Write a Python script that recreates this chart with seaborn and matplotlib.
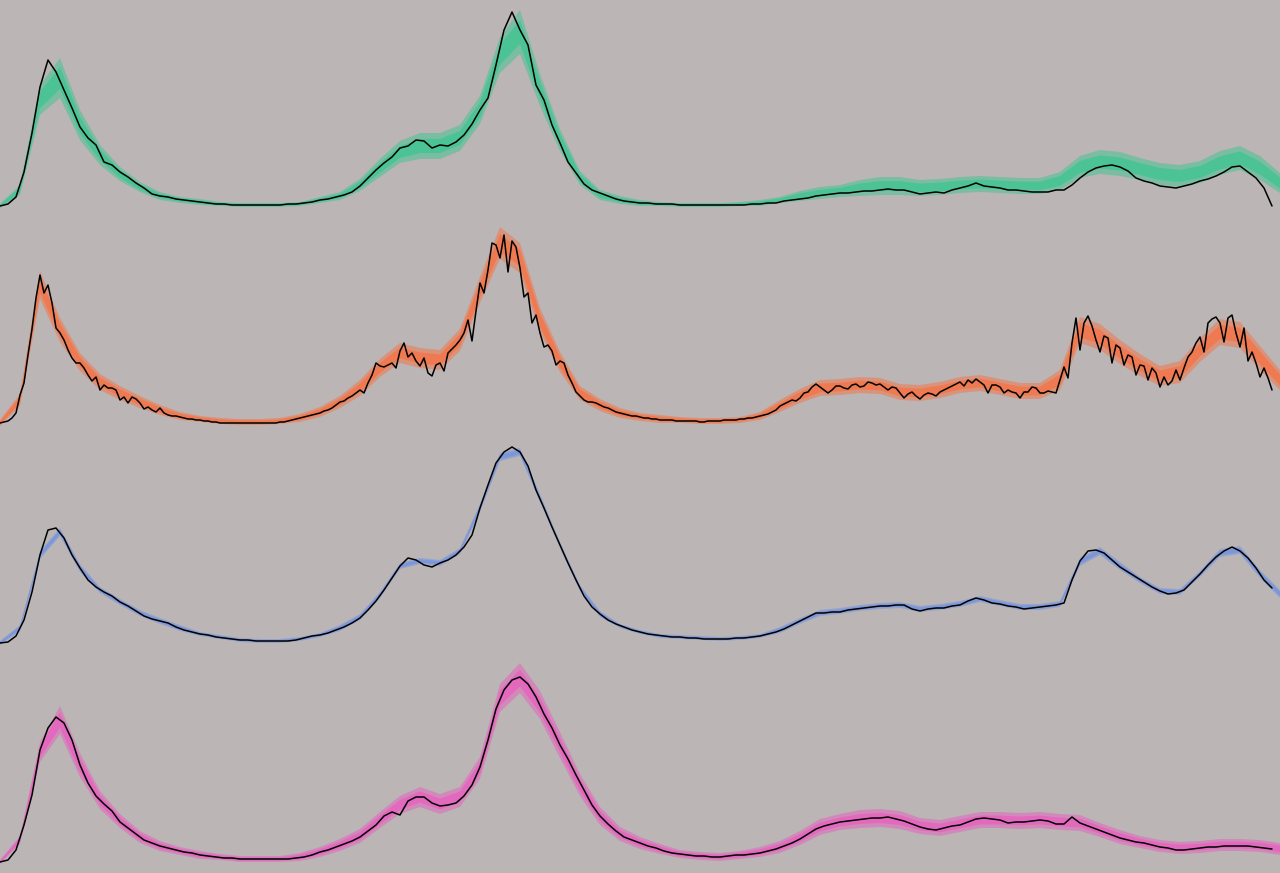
import numpy as np
import seaborn as sns
import matplotlib
matplotlib.use("Agg")
import matplotlib.pyplot as plt

# observed series and forecast bands (mid value and outer half-width, every 20 time steps)
# green / blue / pink observed every 8 steps, orange every 4 steps
green_obs = [0, 2, 9, 34, 73, 119, 146, 134, 116, 98,
             79, 68, 61, 44, 41, 34, 29, 23, 18, 12,
             10, 9, 7, 6, 5, 4, 3, 2, 2, 1,
             1, 1, 1, 1, 1, 1, 2, 2, 3, 4,
             6, 7, 9, 11, 14, 20, 28, 36, 43, 49,
             58, 60, 66, 65, 58, 61, 60, 64, 71, 82,
             96, 108, 141, 176, 194, 176, 161, 121, 106, 81,
             63, 44, 33, 22, 16, 13, 10, 7, 5, 4,
             3, 3, 2, 2, 2, 1, 1, 1, 1, 1,
             1, 1, 1, 1, 2, 2, 3, 3, 5, 6,
             7, 8, 10, 11, 12, 13, 13, 14, 15, 15,
             16, 17, 16, 16, 14, 12, 13, 14, 13, 16,
             18, 20, 23, 20, 19, 18, 16, 16, 15, 14,
             14, 14, 16, 16, 21, 28, 34, 38, 40, 41,
             39, 35, 28, 25, 23, 20, 19, 18, 20, 22,
             25, 27, 30, 34, 39, 40, 34, 28, 18, 0]
green_mid = [0, 16, 106, 128, 81, 51, 32, 19, 10, 6,
             4, 2, 1, 1, 1, 2, 6, 10, 21, 38,
             54, 60, 60, 68, 96, 151, 174, 116, 66, 28,
             11, 6, 3, 2, 1, 1, 1, 2, 3, 6,
             10, 13, 15, 18, 20, 20, 18, 19, 21, 22,
             21, 20, 20, 25, 39, 44, 42, 37, 32, 30,
             34, 43, 48, 38, 23]
green_hw = [2, 5, 15, 20, 15, 10, 7, 5, 4, 3,
            3, 2, 2, 2, 2, 2, 3, 4, 6, 9,
            11, 13, 13, 13, 14, 18, 22, 16, 11, 7,
            5, 4, 3, 2, 2, 2, 2, 2, 3, 3,
            5, 6, 6, 8, 9, 9, 8, 8, 8, 8,
            8, 8, 8, 9, 11, 12, 12, 11, 11, 11,
            11, 12, 12, 12, 10]

orange_obs = [0, 1, 2, 5, 10, 28, 40, 68, 94, 125, 148, 130, 138, 120, 95, 90, 83, 73, 65, 60,
              60, 55, 48, 42, 46, 33, 38, 35, 35, 33, 23, 26, 20, 26, 24, 20, 14, 16, 13, 11,
              15, 10, 8, 7, 7, 6, 5, 4, 4, 3, 3, 2, 2, 1, 1, 0, 0, 0, 0, 0,
              0, 0, 0, 0, 0, 0, 0, 0, 0, 0, 1, 1, 2, 3, 4, 5, 6, 7, 8, 9,
              10, 12, 13, 15, 18, 21, 22, 25, 27, 30, 33, 30, 40, 48, 60, 57, 56, 58, 60, 55,
              72, 80, 66, 70, 62, 57, 65, 50, 47, 58, 60, 52, 70, 74, 78, 83, 90, 103, 82, 112,
              140, 130, 153, 180, 178, 165, 188, 151, 182, 176, 155, 126, 130, 100, 108, 90, 76, 78, 72, 58,
              62, 60, 48, 40, 31, 27, 23, 21, 21, 20, 18, 16, 15, 13, 11, 10, 9, 8, 7, 7,
              6, 5, 5, 4, 4, 3, 3, 3, 3, 2, 2, 2, 2, 2, 2, 1, 1, 2, 2, 2,
              2, 3, 3, 3, 3, 4, 4, 5, 5, 6, 7, 8, 9, 11, 13, 17, 19, 21, 23, 22,
              25, 30, 31, 36, 39, 36, 33, 30, 33, 37, 37, 35, 34, 38, 39, 36, 37, 41, 40, 38,
              39, 36, 33, 36, 35, 30, 25, 29, 31, 27, 24, 28, 30, 29, 27, 31, 33, 35, 37, 39,
              41, 37, 43, 40, 44, 41, 38, 30, 38, 38, 36, 30, 33, 31, 30, 25, 31, 31, 36, 35,
              30, 30, 32, 31, 30, 43, 56, 45, 80, 105, 73, 100, 107, 97, 83, 71, 87, 85, 60, 78,
              75, 58, 68, 66, 48, 58, 57, 43, 55, 50, 36, 46, 38, 42, 53, 43, 55, 66, 71, 80,
              86, 71, 100, 104, 106, 100, 81, 105, 108, 90, 76, 95, 62, 71, 60, 46, 55, 45, 33]
orange_mid = [0, 23, 138, 93, 61, 41, 30, 21, 13, 7,
              4, 2, 1, 1, 2, 5, 11, 21, 35, 55,
              70, 65, 63, 83, 133, 180, 165, 103, 61, 30,
              18, 10, 6, 4, 3, 2, 2, 3, 7, 17,
              27, 35, 36, 38, 37, 31, 30, 33, 38, 40,
              36, 32, 32, 43, 93, 86, 71, 58, 47, 51,
              73, 91, 88, 65, 43]
orange_hw = [3, 6, 14, 12, 9, 8, 7, 6, 5, 4,
             3, 3, 3, 3, 3, 4, 5, 6, 8, 9,
             10, 10, 10, 11, 13, 16, 15, 12, 10, 7,
             6, 5, 4, 4, 3, 3, 3, 3, 4, 6,
             7, 8, 8, 8, 8, 8, 8, 8, 8, 8,
             8, 8, 8, 10, 13, 13, 12, 11, 10, 11,
             12, 13, 13, 12, 10]

blue_obs = [-2, -1, 5, 21, 49, 86, 111, 113, 103, 86,
            73, 61, 54, 49, 45, 39, 35, 30, 25, 22,
            20, 18, 14, 11, 9, 7, 6, 4, 3, 2,
            1, 1, 0, 0, 0, 0, 0, 1, 3, 5,
            6, 8, 11, 14, 18, 23, 31, 40, 51, 63,
            75, 83, 81, 76, 74, 78, 81, 86, 94, 106,
            133, 156, 178, 189, 194, 189, 175, 151, 133, 114,
            96, 78, 61, 45, 34, 27, 21, 17, 14, 11,
            9, 7, 6, 5, 4, 4, 3, 3, 2, 2,
            2, 2, 3, 3, 4, 5, 7, 9, 12, 16,
            20, 24, 28, 28, 29, 29, 31, 32, 33, 34,
            35, 35, 36, 36, 32, 30, 32, 33, 33, 35,
            36, 40, 43, 41, 38, 37, 35, 34, 32, 33,
            34, 35, 36, 38, 61, 80, 90, 91, 88, 81,
            74, 69, 64, 59, 54, 50, 47, 48, 51, 59,
            67, 76, 84, 90, 94, 90, 83, 73, 61, 53]
blue_mid = [-2, 13, 86, 109, 73, 51, 39, 28, 20, 13,
            7, 4, 1, 0, 0, 2, 6, 13, 24, 46,
            75, 80, 78, 90, 133, 184, 189, 143, 96, 53,
            27, 15, 9, 5, 4, 3, 2, 3, 5, 11,
            20, 28, 30, 33, 35, 36, 32, 34, 37, 42,
            38, 34, 34, 37, 79, 90, 75, 61, 50, 49,
            67, 88, 91, 67, 47]
blue_hw = [2, 3, 4, 4, 4, 3, 3, 3, 3, 3,
           2, 2, 2, 2, 2, 2, 2, 3, 3, 3,
           3, 3, 3, 3, 4, 4, 4, 4, 3, 3,
           3, 2, 2, 2, 2, 2, 2, 2, 2, 3,
           3, 3, 3, 3, 3, 3, 3, 3, 3, 3,
           3, 3, 3, 3, 4, 4, 4, 3, 3, 3,
           3, 4, 4, 4, 4]

pink_obs = [0, 2, 12, 37, 67, 112, 134, 145, 139, 122,
            97, 79, 66, 58, 51, 40, 34, 28, 22, 19,
            16, 14, 12, 10, 9, 7, 6, 5, 4, 4,
            3, 3, 3, 3, 3, 3, 3, 4, 5, 7,
            10, 12, 15, 18, 21, 25, 31, 37, 46, 50,
            47, 61, 65, 65, 59, 56, 57, 59, 66, 77,
            95, 122, 153, 172, 182, 185, 178, 165, 148, 134,
            117, 103, 87, 72, 57, 46, 38, 31, 25, 22,
            19, 16, 14, 11, 9, 8, 7, 6, 6, 5,
            5, 6, 7, 7, 8, 9, 11, 13, 16, 19,
            23, 28, 33, 36, 38, 40, 41, 42, 43, 44,
            44, 45, 43, 41, 38, 35, 33, 32, 34, 36,
            37, 40, 43, 44, 43, 42, 39, 40, 40, 41,
            42, 41, 38, 38, 45, 39, 36, 33, 30, 27,
            24, 22, 20, 19, 17, 15, 14, 12, 12, 13,
            14, 15, 15, 16, 16, 16, 16, 15, 14, 13]
pink_mid = [0, 22, 110, 142, 97, 62, 41, 25, 16, 11,
            7, 5, 3, 3, 3, 5, 10, 17, 26, 42,
            57, 65, 58, 65, 94, 164, 184, 157, 117, 77,
            46, 28, 19, 13, 8, 6, 5, 7, 10, 15,
            24, 35, 40, 43, 44, 42, 36, 34, 38, 42,
            42, 41, 42, 40, 39, 32, 25, 20, 16, 14,
            15, 17, 17, 16, 13]
pink_hw = [2, 4, 10, 14, 12, 9, 7, 6, 5, 4,
           4, 3, 3, 3, 3, 4, 5, 6, 7, 8,
           9, 10, 10, 10, 11, 14, 15, 14, 13, 11,
           9, 7, 6, 5, 4, 4, 4, 4, 5, 6,
           7, 8, 8, 9, 9, 9, 8, 8, 8, 8,
           8, 8, 8, 8, 8, 7, 7, 6, 6, 6,
           6, 6, 6, 6, 6]

FC_STEP = 20
INNER = 0.55  # inner interval relative to outer one

panels = [
    (green_obs, 8, green_mid, green_hw, "#2ec88c", (-12.25, 206)),
    (orange_obs, 4, orange_mid, orange_hw, "#ff6a36", (-13.5, 204.75)),
    (blue_obs, 8, blue_mid, blue_hw, "#6a8fe6", (-13.75, 204.5)),
    (pink_obs, 8, pink_mid, pink_hw, "#ee54c0", (-11, 207.25)),
]

bg = "#bbb5b5"
sns.set_theme(style="white", rc={"axes.facecolor": bg, "figure.facecolor": bg})

fig, axes = plt.subplots(4, 1, figsize=(12.8, 8.73), dpi=100, sharex=True)
fig.subplots_adjust(left=0, right=1, top=1, bottom=0, hspace=0)

for ax, (obs, step, mid, hw, col, ylim) in zip(axes, panels):
    obs = np.array(obs, dtype=float)
    mid = np.array(mid, dtype=float)
    hw = np.array(hw, dtype=float)
    t_obs = np.arange(len(obs)) * step
    t_fc = np.arange(len(mid)) * FC_STEP

    ax.fill_between(t_fc, mid - hw, mid + hw, color=col, alpha=0.45, lw=0)
    ax.fill_between(t_fc, mid - hw * INNER, mid + hw * INNER, color=col, alpha=0.6, lw=0)
    sns.lineplot(x=t_obs, y=obs, ax=ax, color="black", lw=1.1)

    ax.set_xlim(0, 1280)
    ax.set_ylim(*ylim)
    ax.set_axis_off()

fig.savefig("out.png", dpi=100, facecolor=bg)
